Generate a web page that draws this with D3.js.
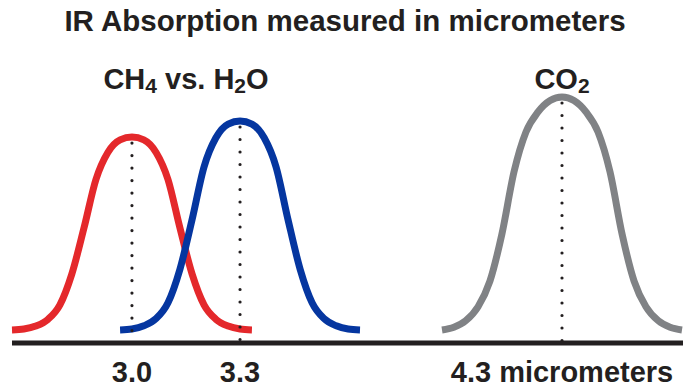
<!DOCTYPE html>
<html>
<head>
<meta charset="utf-8">
<script src="https://cdn.jsdelivr.net/npm/d3@7"></script>
<style>
  body { margin: 0; background: #fff; }
  svg { display: block; }
  text { font-family: "Liberation Sans", Arial, Helvetica, sans-serif; font-weight: bold; fill: #231f20; }
</style>
</head>
<body>
<svg id="chart" width="690" height="388"></svg>
<script>
// chart data
const title = 'IR Absorption measured in micrometers'
const peaks = [3.0, 3.3, 4.3]
const tickLabels = ['3.0', '3.3', '4.3 micrometers']
// wavelength offset from each peak (micrometers)
const offsets = [-0.333, -0.3, -0.267, -0.233, -0.2, -0.167, -0.133, -0.1, -0.067, -0.033, 0,
  0.033, 0.067, 0.1, 0.133, 0.167, 0.2, 0.233, 0.267, 0.3, 0.333]
// relative absorption at each offset
const ch4 = [0, 0.004, 0.017, 0.046, 0.108, 0.24, 0.439, 0.646, 0.762, 0.816, 0.828,
  0.816, 0.762, 0.646, 0.439, 0.24, 0.108, 0.046, 0.017, 0.004, 0]
const h2o = [0, 0.004, 0.018, 0.049, 0.117, 0.26, 0.475, 0.70, 0.825, 0.884, 0.897,
  0.884, 0.825, 0.70, 0.475, 0.26, 0.117, 0.049, 0.018, 0.004, 0]
const co2 = [0, 0.012, 0.04, 0.10, 0.21, 0.41, 0.68, 0.85, 0.935, 0.985, 1,
  0.985, 0.935, 0.85, 0.68, 0.41, 0.21, 0.10, 0.04, 0.012, 0]

const groups = [
  { parts: [['CH', false], ['4', true], [' vs. H', false], ['2', true], ['O', false]], at: [3.0, 3.3] },
  { parts: [['CO', false], ['2', true]], at: [4.3] }
]

// red is drawn first so that blue crosses over it
const series = [
  { peak: peaks[0], values: ch4, color: '#e4282b' },
  { peak: peaks[1], values: h2o, color: '#0536a0' },
  { peak: peaks[2], values: co2, color: '#808285' }
]

const svg = d3.select('#chart')
const axisY = 343

// the wavelength axis is broken between 3.3 and 4.3
const x = d3.scaleLinear()
  .domain([2.667, 3.633, 3.967, 4.633])
  .range([12, 360, 442, 682])
const y = d3.scaleLinear()
  .domain([0, 1])
  .range([330, 97])

// title
svg.append('text')
    .attr('x', 345)
    .attr('y', 31)
    .attr('text-anchor', 'middle')
    .style('font-size', '29.5px')
    .text(title)

// group labels with subscripts
groups.forEach(g => {
  let t = svg.append('text')
      .attr('x', d3.mean(g.at, x))
      .attr('y', 89)
      .attr('text-anchor', 'middle')
      .style('font-size', '29px')
  let shifted = false
  g.parts.forEach(([str, sub]) => {
    let dy = 0
    if (sub && !shifted) { dy = 4; shifted = true }
    if (!sub && shifted) { dy = -4; shifted = false }
    t.append('tspan')
        .attr('dy', dy)
        .style('font-size', sub ? '21px' : '29px')
        .text(str)
  })
})

// baseline
svg.append('line')
    .attr('x1', x.range()[0])
    .attr('x2', x.range()[3] + 1)
    .attr('y1', axisY)
    .attr('y2', axisY)
    .attr('stroke', '#231f20')
    .attr('stroke-width', 5)

// absorption curves
series.forEach(s => {
  let line = d3.line()
    .x((d, i) => x(s.peak + offsets[i]))
    .y(d => y(d))
    .curve(d3.curveMonotoneX)
  svg.append('path')
      .attr('d', line(s.values))
      .attr('fill', 'none')
      .attr('stroke', s.color)
      .attr('stroke-width', 7)
})

// dotted drop lines from each peak
series.forEach(s => {
  svg.append('line')
      .attr('x1', x(s.peak))
      .attr('x2', x(s.peak))
      .attr('y1', y(d3.max(s.values)) + 6)
      .attr('y2', axisY)
      .attr('stroke', '#231f20')
      .attr('stroke-width', 3.2)
      .attr('stroke-linecap', 'round')
      .attr('stroke-dasharray', '0 12.5')
})

// tick labels
svg.selectAll('text.tick')
  .data(peaks)
  .join('text')
    .attr('class', 'tick')
    .attr('x', d => x(d))
    .attr('y', 382)
    .attr('text-anchor', 'middle')
    .style('font-size', '29px')
    .text((d, i) => tickLabels[i])
</script>
</body>
</html>
